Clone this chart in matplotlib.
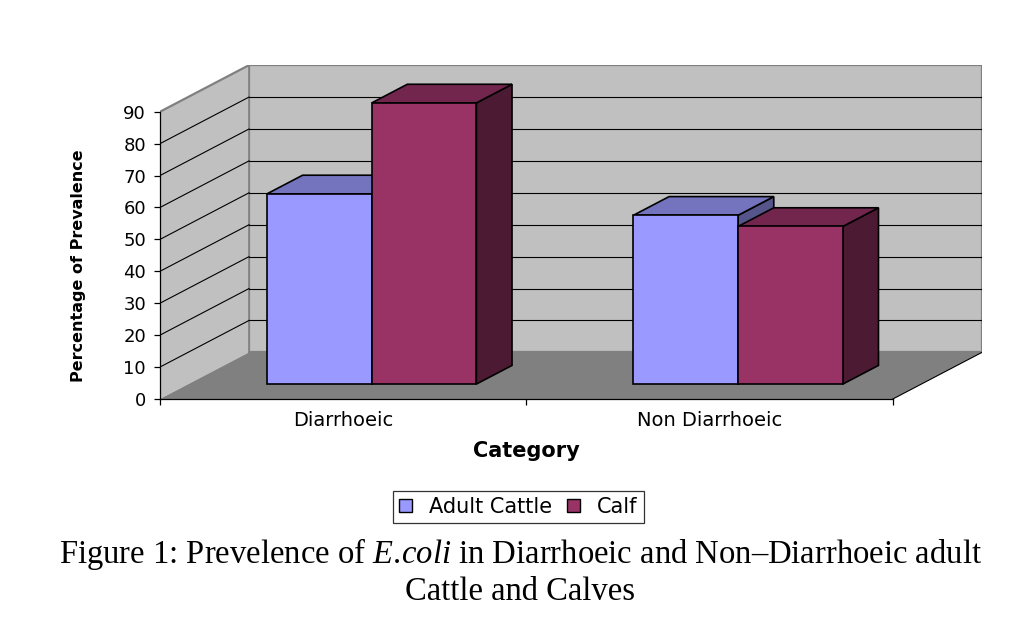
import matplotlib
matplotlib.use("Agg")
import matplotlib.pyplot as plt
from matplotlib.patches import Polygon, Patch

categories = ["Diarrhoeic", "Non Diarrhoeic"]
series_names = ["Adult Cattle", "Calf"]
adult_cattle = [59.6, 52.9]
calf = [88.1, 49.4]
y_ticks = [0, 10, 20, 30, 40, 50, 60, 70, 80, 90]

front_colors = ["#9999FF", "#993366"]
top_colors = ["#7474BE", "#73264D"]
side_colors = ["#55558C", "#4D1A33"]

# oblique offset of the back wall (data units) -> fake Excel 3D look
DX = 0.243
DY = 14.6
Y_MAX = 90
D0, D1 = 0.32, 0.72   # depth span of the bars (fraction of full depth)
GAP = 0.75            # Excel gap width

plt.rcParams["font.family"] = "DejaVu Sans"
plt.rcParams["mathtext.fontset"] = "custom"
plt.rcParams["mathtext.rm"] = "Liberation Serif"
plt.rcParams["mathtext.it"] = "Liberation Serif:italic"

fig = plt.figure(figsize=(10.28, 6.2), dpi=100)
ax = fig.add_axes([0.1556, 0.3565, 0.7996, 0.5384])
n = len(categories)
ax.set_xlim(0, n + DX)
ax.set_ylim(0, Y_MAX + DY)
ax.patch.set_visible(False)

# walls and floor
ax.add_patch(Polygon([(DX, DY), (n + DX, DY), (n + DX, Y_MAX + DY), (DX, Y_MAX + DY)],
                     closed=True, fc="#C0C0C0", ec="#808080", lw=1.6, zorder=0))
ax.add_patch(Polygon([(0, 0), (DX, DY), (DX, Y_MAX + DY), (0, Y_MAX)],
                     closed=True, fc="#C0C0C0", ec="none", zorder=0))
ax.add_patch(Polygon([(0, 0), (n, 0), (n + DX, DY), (DX, DY)],
                     closed=True, fc="#808080", ec="none", zorder=0))
ax.plot([0, DX], [Y_MAX, Y_MAX + DY], color="#808080", lw=1.6, zorder=1)
ax.plot([DX, DX], [DY, Y_MAX + DY], color="#808080", lw=1.2, zorder=1)
ax.plot([n, n + DX], [0, DY], color="black", lw=0.8, zorder=1)

# gridlines on back and side wall
for v in y_ticks[1:-1]:
    ax.plot([DX, n + DX], [v + DY, v + DY], color="black", lw=0.8, zorder=1)
    ax.plot([0, DX], [v, v + DY], color="black", lw=0.8, zorder=1)

# bars
group = 1 / (1 + GAP)
bw = group / len(series_names)
for i in range(n):
    for j, vals in enumerate([adult_cattle, calf]):
        v = vals[i]
        x0 = i + (1 - group) / 2 + j * bw
        ax0, ax1 = x0 + D0 * DX, x0 + bw + D0 * DX
        bx0, bx1 = x0 + D1 * DX, x0 + bw + D1 * DX
        ay, by = D0 * DY, D1 * DY
        kw = dict(closed=True, ec="black", lw=1.2, joinstyle="miter", zorder=3)
        ax.add_patch(Polygon([(ax1, ay), (bx1, by), (bx1, v + by), (ax1, v + ay)],
                             fc=side_colors[j], **kw))
        ax.add_patch(Polygon([(ax0, v + ay), (ax1, v + ay), (bx1, v + by), (bx0, v + by)],
                             fc=top_colors[j], **kw))
        ax.add_patch(Polygon([(ax0, ay), (ax1, ay), (ax1, v + ay), (ax0, v + ay)],
                             fc=front_colors[j], **kw))

# axes
for s in ["top", "right"]:
    ax.spines[s].set_visible(False)
ax.spines["left"].set_bounds(0, Y_MAX)
ax.spines["bottom"].set_bounds(0, n)
for s in ["left", "bottom"]:
    ax.spines[s].set_linewidth(0.9)
    ax.spines[s].set_zorder(2)

ax.set_yticks(y_ticks)
ax.tick_params(axis="y", direction="out", length=4, width=0.9, pad=6, labelsize=13)
ax.set_xticks(range(n + 1))
ax.set_xticklabels([])
ax.set_xticks([i + 0.5 for i in range(n)], minor=True)
ax.set_xticklabels(categories, minor=True)
ax.tick_params(axis="x", which="major", direction="out", length=4, width=0.9)
ax.tick_params(axis="x", which="minor", length=0, pad=9, labelsize=14)

ax.set_xlabel("Category", fontsize=15, fontweight="bold")
ax.xaxis.set_label_coords(1.0 / (n + DX), -0.127)
ax.set_ylabel("Percentage of Prevalence", fontsize=11.5, fontweight="bold")
ax.yaxis.set_label_coords(-0.090, 0.398)

handles = [Patch(fc=c, ec="black", lw=1.0) for c in front_colors]
leg = fig.legend(handles, series_names, loc="center", bbox_to_anchor=(0.5044, 1 - 507 / 620),
                 ncol=2, fontsize=15, frameon=True, fancybox=False, edgecolor="black",
                 handlelength=0.6, handleheight=0.6, handletextpad=0.85, columnspacing=0.7,
                 borderpad=0.3, borderaxespad=0)
leg.get_frame().set_linewidth(0.9)

cap_kw = dict(ha="center", va="baseline", fontsize=23.5, family="Liberation Serif")
fig.text(0.506, 1 - 563 / 620,
         "Figure 1: Prevelence of $\\mathit{E.\\!coli}$ in Diarrhoeic and Non\u2013Diarrhoeic adult",
         **cap_kw)
fig.text(0.506, 1 - 600 / 620, "Cattle and Calves", **cap_kw)

fig.savefig("out.png", dpi=100)
